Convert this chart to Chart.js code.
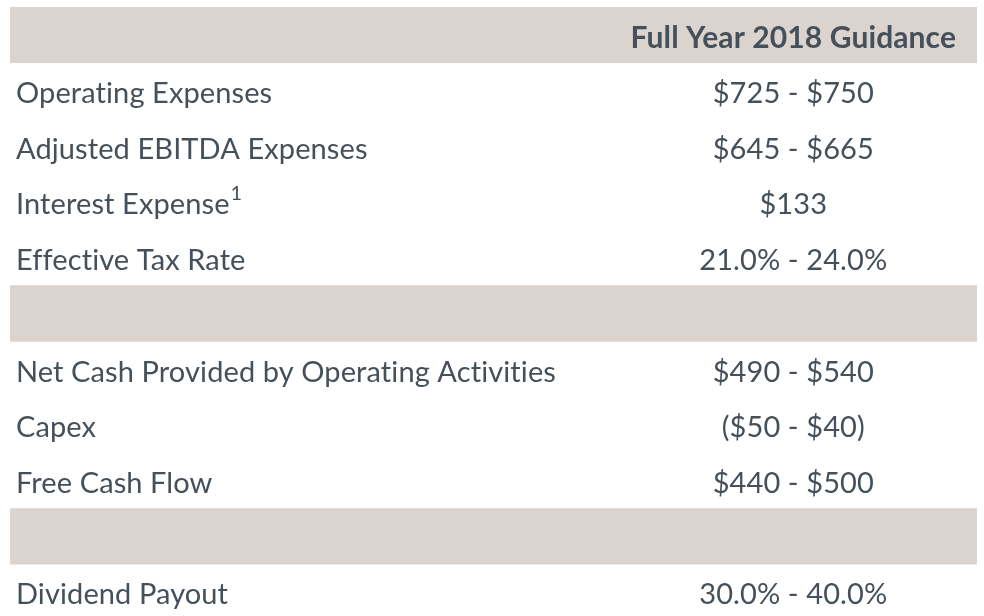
<!DOCTYPE html>
<html>
<head>
<meta charset="utf-8">
<script src="https://cdn.jsdelivr.net/npm/chart.js@4/dist/chart.umd.min.js"></script>
<style>
  html, body { margin: 0; padding: 0; background: #ffffff; overflow: hidden; }
  #wrap { position: absolute; left: 0; top: 0; width: 984px; height: 630px; }
</style>
</head>
<body>
<div id="wrap"><canvas id="guidanceChart"></canvas></div>
<script>
// rows of the guidance table, top to bottom
const rowLabels = [
  "",
  "Operating Expenses",
  "Adjusted EBITDA Expenses",
  "Interest Expense",
  "Effective Tax Rate",
  "",
  "Net Cash Provided by Operating Activities",
  "Capex",
  "Free Cash Flow",
  "",
  "Dividend Payout"
];
const rowValues = [
  "Full Year 2018 Guidance",
  "$725 - $750",
  "$645 - $665",
  "$133",
  "21.0% - 24.0%",
  "",
  "$490 - $540",
  "($50 - $40)",
  "$440 - $500",
  "",
  "30.0% - 40.0%"
];
const rowFootnotes = ["", "", "", "1", "", "", "", "", "", "", ""];
// shaded rows (header + separators)
const shadedRows = [true, false, false, false, false, true, false, false, false, true, false];

const textColor = "#46505a";
const bandColor = "#dbd3cd";
const fontFamily = "Lato, 'Open Sans', sans-serif";

const rowKeys = rowLabels.map((label, i) => "r" + i);

const tableText = {
  id: "tableText",
  afterDatasetsDraw(chart) {
    const ctx = chart.ctx;
    const xScale = chart.scales.x;
    const yScale = chart.scales.y;
    const labelX = xScale.getPixelForValue(0) + 6;
    const valueX = xScale.getPixelForValue(0.81);
    ctx.save();
    ctx.fillStyle = textColor;
    ctx.textBaseline = "middle";
    // a tiny letter spacing keeps Lato from joining "ti" into a ligature
    ctx.letterSpacing = "0.1px";
    rowKeys.forEach((key, i) => {
      const y = yScale.getPixelForValue(i) + 3;
      if (rowLabels[i]) {
        ctx.font = "29px " + fontFamily;
        ctx.textAlign = "left";
        ctx.fillText(rowLabels[i], labelX, y);
        if (rowFootnotes[i]) {
          const w = ctx.measureText(rowLabels[i]).width;
          ctx.font = "20px " + fontFamily;
          ctx.fillText(rowFootnotes[i], labelX + w + 1, y - 11);
        }
      }
      if (rowValues[i]) {
        ctx.font = (i === 0 ? "bold 30px " : "29px ") + fontFamily;
        ctx.textAlign = "center";
        ctx.fillText(rowValues[i], valueX, y);
      }
    });
    ctx.restore();
  }
};

new Chart(document.getElementById("guidanceChart"), {
  type: "bar",
  data: {
    labels: rowKeys,
    datasets: [
      {
        data: shadedRows.map((s) => (s ? [0, 1] : null)),
        backgroundColor: bandColor,
        borderWidth: 0,
        barPercentage: 1,
        categoryPercentage: 1
      }
    ]
  },
  options: {
    indexAxis: "y",
    responsive: true,
    maintainAspectRatio: false,
    animation: false,
    layout: { padding: { top: 7, left: 10, right: 7, bottom: 10 } },
    plugins: { legend: { display: false }, tooltip: { enabled: false } },
    scales: {
      x: { display: false, min: 0, max: 1 },
      y: { display: false, offset: true }
    }
  },
  plugins: [tableText]
});
</script>
</body>
</html>
